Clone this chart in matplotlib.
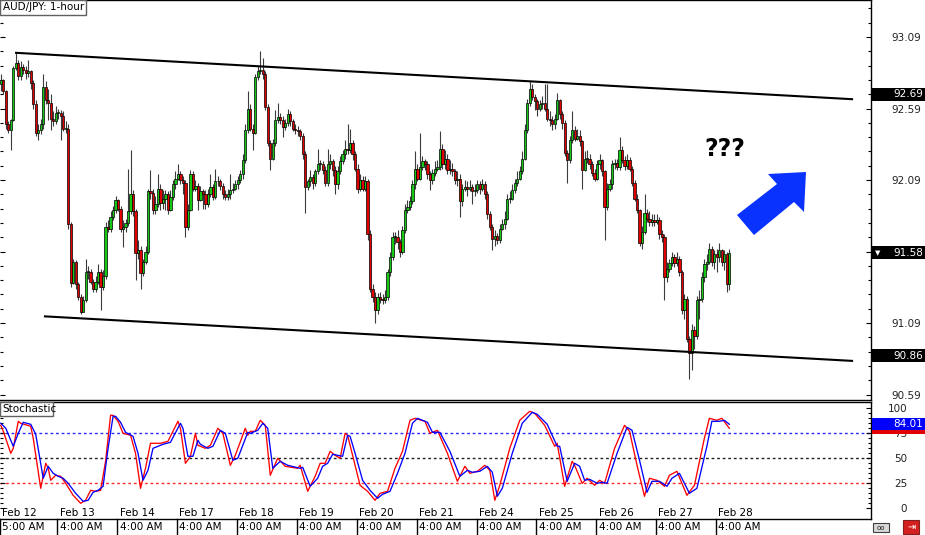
import numpy as np
import matplotlib
matplotlib.use("Agg")
import matplotlib.pyplot as plt
from matplotlib.patches import Rectangle, Polygon
from matplotlib.transforms import blended_transform_factory

# ---------------- data ----------------
first_open = 92.76
close = [
92.79,92.71,92.48,92.44,92.51,92.87,92.91,92.82,92.88,92.86,
92.84,92.85,92.77,92.62,92.42,92.44,92.48,92.74,92.65,92.63,
92.52,92.50,92.56,92.56,92.54,92.45,92.45,91.78,91.37,91.52,
91.36,91.27,91.17,91.25,91.45,91.45,91.38,91.33,91.38,91.45,
91.34,91.42,91.76,91.75,91.83,91.88,91.95,91.89,91.75,91.76,
91.79,91.87,91.99,91.87,91.58,91.60,91.44,91.52,91.59,92.01,
92.00,91.88,91.92,92.03,91.93,91.96,91.99,91.88,91.97,92.06,
92.10,92.13,92.09,92.07,91.76,91.88,92.13,92.03,92.05,91.95,
92.01,91.99,91.92,91.99,92.04,91.97,92.08,92.08,92.05,91.99,
91.97,91.99,92.02,92.03,92.06,92.09,92.13,92.23,92.44,92.59,
92.45,92.42,92.81,92.85,92.86,92.83,92.60,92.35,92.24,92.35,
92.51,92.53,92.51,92.46,92.49,92.55,92.50,92.45,92.44,92.43,
92.40,92.27,92.04,92.08,92.11,92.07,92.15,92.20,92.20,92.16,
92.07,92.20,92.22,92.16,92.06,92.15,92.22,92.27,92.31,92.30,
92.35,92.27,92.17,92.03,92.09,92.03,92.08,91.71,91.33,91.27,
91.18,91.27,91.26,91.25,91.27,91.45,91.55,91.69,91.69,91.66,
91.59,91.74,91.88,91.90,91.94,92.06,92.17,92.10,92.18,92.22,
92.20,92.13,92.09,92.14,92.17,92.18,92.31,92.20,92.24,92.16,
92.17,92.15,92.09,92.10,91.94,92.03,92.04,92.03,92.04,92.01,
92.02,92.06,92.03,92.06,91.99,91.85,91.76,91.68,91.70,91.67,
91.75,91.78,91.82,91.96,91.96,92.02,92.07,92.10,92.15,92.24,
92.44,92.63,92.73,92.67,92.64,92.59,92.62,92.63,92.59,92.52,
92.51,92.48,92.52,92.65,92.55,92.49,92.28,92.23,92.37,92.44,
92.38,92.40,92.36,92.16,92.24,92.24,92.20,92.14,92.10,92.20,
92.23,92.15,91.90,92.03,92.06,92.20,92.21,92.18,92.30,92.23,
92.19,92.23,92.17,92.07,91.96,91.88,91.65,91.73,91.86,91.82,
91.80,91.81,91.80,91.81,91.71,91.69,91.41,91.47,91.51,91.55,
91.51,91.54,91.45,91.18,91.26,90.98,90.88,91.04,91.00,91.25,
91.26,91.41,91.50,91.52,91.61,91.52,91.57,91.55,91.60,91.52,
91.57,91.36,91.58]

high = [
92.83,92.80,92.72,92.50,92.52,92.89,92.98,92.93,92.92,92.90,
92.89,92.93,92.86,92.79,92.65,92.48,92.52,92.83,92.78,92.73,
92.69,92.57,92.61,92.59,92.58,92.57,92.50,92.48,91.80,91.54,
91.53,91.38,91.29,91.28,91.54,91.49,91.47,91.40,91.42,91.50,
91.47,91.46,91.80,91.81,91.87,91.91,91.98,91.96,91.91,91.81,
91.82,92.17,92.30,92.02,91.89,91.67,91.63,91.54,91.63,92.03,
92.16,92.03,91.98,92.13,92.06,92.02,92.02,92.01,92.02,92.09,
92.15,92.20,92.15,92.12,92.09,91.92,92.16,92.15,92.09,92.07,
92.05,92.03,92.02,92.03,92.13,92.06,92.17,92.12,92.10,92.07,
92.02,92.03,92.13,92.07,92.09,92.12,92.16,92.27,92.48,92.71,
92.62,92.48,92.83,92.89,92.99,92.94,92.85,92.62,92.37,92.38,
92.58,92.63,92.56,92.54,92.52,92.59,92.57,92.52,92.48,92.47,
92.45,92.42,92.29,92.10,92.16,92.13,92.17,92.31,92.23,92.22,
92.19,92.31,92.27,92.24,92.19,92.19,92.26,92.30,92.37,92.48,
92.45,92.37,92.29,92.20,92.13,92.12,92.12,92.10,91.74,91.36,
91.31,91.30,91.31,91.29,91.32,91.47,91.59,91.73,91.73,91.74,
91.68,91.77,91.92,91.95,91.98,92.09,92.29,92.20,92.42,92.26,
92.24,92.22,92.15,92.17,92.22,92.23,92.43,92.34,92.30,92.27,
92.23,92.21,92.17,92.15,92.13,92.06,92.09,92.08,92.09,92.06,
92.06,92.09,92.08,92.10,92.08,92.01,91.87,91.78,91.74,91.72,
91.78,91.82,91.87,91.99,92.01,92.06,92.10,92.15,92.19,92.29,
92.48,92.66,92.78,92.76,92.69,92.66,92.65,92.68,92.76,92.76,
92.57,92.54,92.55,92.70,92.66,92.57,92.51,92.30,92.40,92.57,
92.47,92.45,92.44,92.37,92.29,92.30,92.27,92.22,92.17,92.23,
92.27,92.24,92.16,92.07,92.10,92.23,92.24,92.24,92.39,92.33,
92.26,92.27,92.25,92.19,92.09,91.99,91.89,91.77,91.99,91.89,
91.87,91.85,91.85,91.85,91.83,91.74,91.71,91.52,91.54,91.59,
91.57,91.59,91.56,91.46,91.29,91.28,91.00,91.08,91.07,91.28,
91.32,91.45,91.54,91.57,91.65,91.63,91.60,91.61,91.65,91.61,
91.60,91.59,91.61]

low = [
92.71,92.69,92.45,92.42,92.30,92.50,92.86,92.79,92.79,92.83,
92.80,92.81,92.73,92.59,92.40,92.37,92.41,92.45,92.62,92.51,
92.44,92.47,92.48,92.52,92.37,92.43,92.42,91.75,91.34,91.36,
91.33,91.25,91.15,91.17,91.24,91.40,91.36,91.31,91.31,91.36,
91.18,91.32,91.40,91.73,91.73,91.81,91.86,91.87,91.73,91.62,
91.73,91.77,91.85,91.84,91.39,91.54,91.33,91.42,91.50,91.57,
91.96,91.85,91.85,91.90,91.88,91.89,91.88,91.85,91.87,91.95,
92.03,92.09,92.06,91.99,91.69,91.74,91.87,92.01,92.01,91.88,
91.94,91.89,91.89,91.90,91.97,91.95,91.96,92.05,92.02,91.96,
91.95,91.95,91.96,92.00,92.02,92.03,92.07,92.10,92.21,92.42,
92.43,92.30,92.41,92.79,92.83,92.80,92.58,92.33,92.16,92.23,
92.33,92.49,92.48,92.39,92.44,92.47,92.47,92.43,92.41,92.40,
92.37,92.24,91.86,92.02,92.05,92.03,92.05,92.13,92.16,92.13,
92.05,92.05,92.17,92.12,91.99,92.03,92.13,92.20,92.24,92.27,
92.28,92.23,92.15,92.00,92.01,92.01,92.01,91.67,91.31,91.24,
91.09,91.15,91.23,91.22,91.23,91.25,91.42,91.53,91.64,91.61,
91.55,91.57,91.72,91.86,91.88,91.92,92.03,92.08,92.09,92.16,
92.16,92.10,92.02,92.06,92.12,92.15,92.16,92.17,92.17,92.13,
92.13,92.12,92.06,92.05,91.83,91.91,92.01,91.98,92.01,91.92,
91.98,92.00,91.99,92.01,91.96,91.82,91.74,91.60,91.63,91.64,
91.65,91.74,91.75,91.81,91.93,91.95,92.00,92.05,92.09,92.13,
92.23,92.42,92.61,92.65,92.58,92.54,92.57,92.59,92.57,92.50,
92.47,92.44,92.45,92.51,92.52,92.45,92.26,92.07,92.21,92.35,
92.36,92.37,92.33,92.03,92.15,92.21,92.17,92.12,92.08,92.09,
92.17,92.12,91.67,91.88,92.01,92.03,92.17,92.16,92.16,92.21,
92.16,92.17,92.15,92.05,91.94,91.86,91.63,91.61,91.71,91.80,
91.77,91.77,91.77,91.78,91.68,91.66,91.25,91.38,91.45,91.49,
91.48,91.49,91.42,91.15,91.12,90.96,90.70,90.76,90.91,90.98,
91.12,91.24,91.38,91.46,91.50,91.49,91.47,91.45,91.52,91.49,
91.46,91.31,91.32]

# stochastic (bar index, value)
stoch_k_bar = [0,1,4,5,7,8,12,13,16,18,19,20,22,24,26,29,32,34,36,38,
               40,42,44,45,47,49,52,54,56,58,60,64,67,71,72,74,76,78,79,82,
               84,87,89,92,94,98,99,100,102,104,106,108,111,114,119,120,123,126,128,130,
               132,134,136,138,139,141,144,147,150,152,155,158,161,164,166,170,172,175,179,183,
               186,188,191,194,196,198,200,204,208,212,214,218,222,223,226,229,230,233,235,238,
               240,242,246,250,252,255,258,260,263,266,268,271,275,278,282,284,287,289,292]
stoch_k = [83,77,55,60,87,85,82,70,20,45,40,28,33,32,25,13,5,8,18,17,
           18,47,93,93,87,75,73,55,20,40,65,65,67,87,80,45,52,75,63,60,
           63,80,75,43,53,80,73,77,77,88,83,33,50,42,40,43,17,32,45,45,
           57,53,50,75,73,53,23,17,8,15,17,40,57,88,90,87,75,78,55,27,
           42,35,37,43,38,8,23,60,88,97,95,83,62,65,22,47,43,25,30,23,
           28,25,60,83,77,43,12,30,28,22,33,37,13,23,70,90,88,90,80]
stoch_d_bar = [0,2,5,7,9,12,14,17,19,21,23,25,27,30,33,35,37,39,41,43,
               45,46,48,50,53,55,57,59,61,65,68,72,73,75,77,79,80,83,85,88,
               90,93,95,99,100,101,103,105,107,109,112,115,120,121,124,127,129,131,133,135,
               137,139,140,142,145,148,151,153,156,159,162,165,167,171,173,176,180,184,187,189,
               192,195,197,199,201,205,209,213,215,219,223,224,227,230,232,234,236,239,241,243,
               247,251,253,256,259,261,264,267,269,272,276,279,283,285,288,290,292]
stoch_d = [85,80,62,75,86,84,74,30,42,35,32,30,25,15,7,8,16,18,22,60,
           92,92,86,76,72,55,28,38,60,64,66,85,80,52,52,68,64,60,62,78,
           75,48,50,76,75,76,78,85,80,40,47,43,40,41,22,30,42,45,54,53,
           52,73,72,55,28,18,10,14,17,35,55,85,90,86,76,76,57,32,38,36,
           37,42,36,12,20,55,85,96,94,84,62,62,27,45,42,28,29,25,26,25,
           55,81,78,48,16,27,27,22,30,35,15,20,62,87,87,88,84.01]

# channel lines (bar index, price)
upper_line_bar = [5.7, 341.6]
upper_line_price = [92.98, 92.655]
lower_line_bar = [17.3, 341.6]
lower_line_price = [91.137, 90.825]

day_labels = ["Feb 12", "Feb 13", "Feb 14", "Feb 17", "Feb 18", "Feb 19", "Feb 20",
              "Feb 21", "Feb 24", "Feb 25", "Feb 26", "Feb 27", "Feb 28"]
time_labels = ["5:00 AM"] + ["4:00 AM"] * 12
day_bar = [0, 23, 47, 71, 95, 119, 143, 167, 191, 215, 239, 263, 287]

price_ticks = [93.09, 92.59, 92.09, 91.59, 91.09, 90.59]
price_tick_labels = ["93.09", "92.59", "92.09", "91.59", "91.09", "90.59"]
price_markers = [("92.69", 92.69, False), ("91.58", 91.58, True), ("90.86", 90.86, False)]
stoch_ticks = [0, 25, 50, 75, 100]
stoch_levels = [75, 50, 25]
stoch_k_last = 80
stoch_d_last = 84.01

assert len(close) == len(high) == len(low)
assert len(stoch_k_bar) == len(stoch_k)
assert len(stoch_d_bar) == len(stoch_d)

# ---------------- figure ----------------
plt.rcParams['font.family'] = ['DejaVu Sans']
W, H = 925, 535
fig = plt.figure(figsize=(W / 100, H / 100), dpi=100)
fig.patch.set_facecolor('white')

def fx(px):
    return px / W

def fy(py):
    return 1 - py / H

ax = fig.add_axes([0, fy(400), fx(871), 400 / H])
axs = fig.add_axes([0, fy(519), fx(871), (519 - 402) / H])

XL = (-0.32, 348.78)
ax.set_xlim(*XL)
axs.set_xlim(*XL)
ax.set_ylim(93.349 - 400 / 143, 93.349)
axs.set_ylim(-10.7, 106.3)

# candles
c = np.array(close)
hi = np.array(high)
lo = np.array(low)
o = np.concatenate([[first_open], c[:-1]])
idx = np.arange(len(c))
top = np.maximum(hi, np.maximum(o, c))
bot = np.minimum(lo, np.minimum(o, c))
ax.vlines(idx, bot, top, color='#3c3c3c', lw=0.8, zorder=2)
blo = np.minimum(o, c)
bh = np.maximum(np.abs(c - o), 0.006)
up = c >= o
ax.bar(idx[up], bh[up], bottom=blo[up], width=0.9, color='#14c814',
       edgecolor='black', linewidth=0.5, zorder=3)
ax.bar(idx[~up], bh[~up], bottom=blo[~up], width=0.9, color='#e00000',
       edgecolor='black', linewidth=0.5, zorder=3)

# channel
ax.plot(upper_line_bar, upper_line_price, color='black', lw=1.5, zorder=4, solid_capstyle='butt')
ax.plot(lower_line_bar, lower_line_price, color='black', lw=1.5, zorder=4, solid_capstyle='butt')

# main axes styling
ax.spines['left'].set_visible(False)
for s in ['top', 'right', 'bottom']:
    ax.spines[s].set_color('black')
    ax.spines[s].set_linewidth(1)
ax.set_xticks([])
ax.set_yticks(price_ticks)
ax.set_yticklabels(price_tick_labels)
ax.set_yticks(np.arange(90.59, 93.35, 0.1), minor=True)
ax.tick_params(axis='y', which='major', direction='in', length=3.6, width=0.8,
               left=True, right=True, labelleft=False, labelright=True,
               pad=15, labelsize=7.5, labelcolor='#222222')
ax.tick_params(axis='y', which='minor', direction='in', length=2.2, width=0.8,
               left=True, right=True)

# stochastic
for lv, col in zip(stoch_levels, ['#2a2aff', '#222222', '#ff2a2a']):
    axs.axhline(lv, color=col, lw=1, ls=(0, (2, 2)), zorder=1)
axs.plot(stoch_k_bar, stoch_k, color='#ff0000', lw=0.95, zorder=3)
axs.plot(stoch_d_bar, stoch_d, color='#0000ff', lw=0.95, zorder=4)
axs.spines['left'].set_visible(False)
for s in ['top', 'right', 'bottom']:
    axs.spines[s].set_color('black')
    axs.spines[s].set_linewidth(1)
axs.set_xticks([])
axs.set_yticks(stoch_ticks)
axs.set_yticklabels([str(t) for t in stoch_ticks])
axs.set_yticks(np.arange(0, 101, 5), minor=True)
axs.tick_params(axis='y', which='major', direction='in', length=3.6, width=0.8,
                left=True, right=True, labelleft=False, labelright=True,
                pad=26, labelsize=7.5, labelcolor='#222222')
axs.tick_params(axis='y', which='minor', direction='in', length=2.2, width=0.8,
                left=True, right=True)
for lbl in axs.get_yticklabels():
    lbl.set_horizontalalignment('right')

# date labels and time row
bt = blended_transform_factory(axs.transData, fig.transFigure)
for b, dl, tl in zip(day_bar, day_labels, time_labels):
    axs.text(b + 0.6, fy(513), dl, transform=bt, fontsize=7.5, ha='left', va='center',
             color='black', clip_on=False)
    axs.text(b + 0.6, fy(527.5), tl, transform=bt, fontsize=7.5, ha='left', va='center',
             color='black', clip_on=False)
    axs.plot([b - 0.3, b - 0.3], [fy(519), fy(535)], transform=bt, color='black',
             lw=1, clip_on=False)

# price marker boxes
bp = blended_transform_factory(fig.transFigure, ax.transData)
dh = 13 / 143
for txt, val, tri in price_markers:
    ax.add_patch(Rectangle((fx(872), val - dh / 2), fx(925) - fx(872), dh, transform=bp,
                           facecolor='black', edgecolor='none', clip_on=False, zorder=10))
    ax.text(fx(893), val, txt, transform=bp, color='white', fontsize=7.5, ha='left',
            va='center', clip_on=False, zorder=11)
    if tri:
        ax.text(fx(878), val, '\u25bc', transform=bp, color='white', fontsize=5,
                ha='center', va='center', clip_on=False, zorder=11)

bs = blended_transform_factory(fig.transFigure, axs.transData)
axs.add_patch(Rectangle((fx(872), stoch_k_last - 6), fx(925) - fx(872), 12, transform=bs,
                        facecolor='#e00000', edgecolor='none', clip_on=False, zorder=10))
axs.add_patch(Rectangle((fx(872), stoch_d_last - 6), fx(925) - fx(872), 12, transform=bs,
                        facecolor='#0000ff', edgecolor='none', clip_on=False, zorder=11))
axs.text(fx(893), stoch_d_last, f"{stoch_d_last:.2f}", transform=bs, color='white',
         fontsize=7.5, ha='left', va='center', clip_on=False, zorder=12)

# title boxes
fig.add_artist(Rectangle((fx(0), fy(15)), fx(86), 15 / H, transform=fig.transFigure,
                         facecolor='white', edgecolor='#606060', lw=1, zorder=5))
fig.text(fx(3), fy(7.5), "AUD/JPY: 1-hour", fontsize=7.5, ha='left', va='center', zorder=6)
fig.add_artist(Rectangle((fx(0), fy(416)), fx(53), 14 / H, transform=fig.transFigure,
                         facecolor='white', edgecolor='#606060', lw=1, zorder=5))
fig.text(fx(2), fy(409), "Stochastic", fontsize=7.5, ha='left', va='center', zorder=6)

# annotation: ??? and blue arrow
fig.text(fx(725), fy(149), "???", fontsize=17, fontweight='bold', ha='center', va='center',
         color='black')
arrow_px = [(806, 172), (768, 174), (777, 184), (737, 215), (754, 235), (794, 202), (804, 212)]
fig.add_artist(Polygon([(fx(x), fy(y)) for x, y in arrow_px], closed=True,
                       transform=fig.transFigure, facecolor='#0a32ff', edgecolor='none'))

# bottom-right icons
fig.add_artist(Rectangle((fx(873), fy(532)), fx(16), 9 / H, transform=fig.transFigure,
                         facecolor='#d8d8d8', edgecolor='#404040', lw=0.8))
fig.text(fx(881), fy(527.5), "oo", fontsize=5, ha='center', va='center', color='#202020')
fig.add_artist(Rectangle((fx(903), fy(534)), fx(16), 14 / H, transform=fig.transFigure,
                         facecolor='#d42020', edgecolor='#802020', lw=0.8))
fig.text(fx(911), fy(527), "\u21e5", fontsize=7, ha='center', va='center', color='white')

fig.savefig("out.png", dpi=100)
